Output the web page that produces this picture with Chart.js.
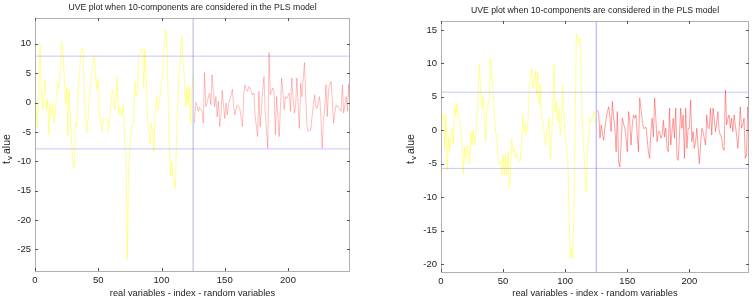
<!DOCTYPE html>
<html>
<head>
<meta charset="utf-8">
<script src="https://cdn.jsdelivr.net/npm/chart.js@4.4.1/dist/chart.umd.min.js"></script>
<style>
  html, body { margin: 0; padding: 0; background: #fff; }
  .panel { position: absolute; top: 0; width: 376px; height: 300px; }
  #left { left: 0; }
  #right { left: 376px; }
</style>
</head>
<body>
<div class="panel" id="left"><canvas id="cLeft" width="376" height="300"></canvas></div>
<div class="panel" id="right"><canvas id="cRight" width="376" height="300"></canvas></div>
<script>
// ---- data ----
const TITLE = 'UVE plot when 10-components are considered in the PLS model';
const X_LABEL = 'real variables - index - random variables';
const SPLIT_INDEX = 125;
const X_TICKS = [0, 50, 100, 150, 200];
const LEFT_Y_TICKS = [-25, -20, -15, -10, -5, 0, 5, 10];
const RIGHT_Y_TICKS = [-20, -15, -10, -5, 0, 5, 10, 15];

// left panel: t-values of the 125 real variables, then the random ones
const LEFT_REAL = [
  0.3, -4.3, 3.0, 9.7, 2.0, -1.2, 1.5, 3.9, -1.2, 0.5,
  -5.5, -0.1, -2.4, -0.4, -3.5, -1.8, 1.5, 3.3, 2.5, 6.0,
  10.4, 9.0, 5.0, -0.1, 2.5, -5.8, 2.2, -2.4, -7.0, -10.9,
  -11.2, -3.5, -4.1, 1.0, 5.0, 8.0, 9.3, 9.0, 1.0, -3.0,
  -5.2, -2.4, 1.0, 3.3, 5.0, 7.3, 7.9, 4.0, 2.2, 4.0,
  -2.4, -3.5, -4.9, -2.7, -2.9, -2.7, -2.9, -4.9, -3.0, -0.1,
  2.2, 1.5, -1.2, 0.5, 4.4, -2.1, -0.7, -1.2, -2.1, -0.4,
  -7.5, -9.5, -26.8, -11.5, -8.0, -4.1, -4.1, -3.5, 3.6, 1.0,
  1.6, 7.9, 8.4, 9.0, 9.0, 2.5, 9.0, 4.0, -2.9, -5.0,
  -7.0, -3.5, -5.0, -8.5, -1.2, 1.0, -1.2, -0.7, 1.6, 3.0,
  4.4, 9.0, 12.4, 11.3, 3.3, -6.0, -12.5, -10.0, -12.8, -13.5,
  -14.7, -5.2, 1.0, 5.0, 8.4, 11.3, 7.0, 4.4, -0.7, 2.5,
  -0.5, 2.8, -3.6, 2.0, 4.5
];
const LEFT_RANDOM = [
  -3.5, 0.0, -0.4, -1.5, -0.8, -1.2, -1.5, -3.5, 5.1, -0.7,
  -0.1, 0.9, 1.6, -0.4, 4.7, 2.0, -0.7, 1.0, -2.4, 0.2,
  -4.1, -2.4, 2.1, -0.5, -2.7, -0.1, -2.1, -0.2, 0.5, 1.2,
  2.3, -0.7, -2.1, -1.0, -0.4, -0.7, -1.2, -2.8, -4.1, 1.3,
  3.0, 2.2, 1.9, 2.7, 2.5, 1.9, 1.3, 1.6, -2.4, -4.0,
  -5.8, 1.9, -4.1, -1.0, 2.2, 4.4, -1.8, -4.8, -7.8, 8.5,
  1.3, 2.0, 2.5, 1.6, -5.5, 1.0, -2.4, -5.8, -0.7, 4.2,
  1.5, -1.2, 1.0, 0.7, 1.2, 1.6, -1.5, 4.2, 1.0, -1.8,
  -0.4, 4.2, -0.5, -4.4, 3.3, 1.0, 4.0, 6.8, 1.0, -4.1,
  -4.9, -4.7, -4.7, -2.4, -0.5, 1.3, -0.7, -1.0, 0.2, 1.0,
  -2.4, -7.8, -3.0, -1.0, 3.0, -2.4, 2.2, 2.9, 3.6, 0.5,
  -3.5, -1.8, -0.4, -0.7, -0.7, -1.3, -1.5, 3.0, -1.8, -0.3,
  1.0, -1.5, 3.2, -2.0
];
const LEFT_CUTOFF = 7.9;
const LEFT_Y_MIN = -28.7, LEFT_Y_MAX = 14.4, LEFT_X_MAX = 249;

// right panel
const RIGHT_REAL = [
  1.5, 2.3, -2.7, 2.5, -6.0, -1.0, -3.2, -0.2, 0.3,
  -2.2, 3.8, 2.3, 4.0, 1.8, 1.8, -0.2, -2.2, -6.5, -2.5,
  -4.2, -2.2, -2.7, -5.2, -0.2, -2.2, 0.0, -2.2, -0.7,
  1.8, 5.8, 9.8, 5.8, 3.3, 5.3, 1.8, -1.7, 3.3, 3.8,
  4.8, 10.8, 8.3, 6.3, 2.3, -0.2, -1.2, -4.7, -5.0, -4.7,
  -6.7, -3.7, -6.7, -3.5, -6.7, -3.2, -8.7, -5.7, -1.2, -3.2,
  -2.7, -4.2, -3.5, -4.0, -4.7, -4.5, -0.7, 2.3, -0.2, 0.8, -0.7, 1.3,
  6.3, 7.8, 9.3, 6.3, 7.3, 8.8, 5.3, 8.8, 3.8, 6.8,
  1.8, 1.3, -0.2, -2.2, -0.7, 0.3, 1.8, -4.2, -1.2, 2.8,
  9.8, 2.8, 4.3, 1.3, 3.3, -0.7, 1.3, 6.8, 1.8, -1.2,
  -2.7, -4.2, -11.2, -19.2, -17.7, -19.2, -13.2, 1.8, 14.5, 13.3,
  13.0, 13.8, 6.8, 0.3, -3.2, -6.7, -9.2, -3.7, -0.2, 1.8,
  1.3, 1.8, 2.8, 1.8, 0.8
];
const RIGHT_RANDOM = [
  3.0, 2.5, -1.2, 0.8, -0.5, -1.5, 0.4, 1.8, 2.8, 3.5,
  2.0, -0.2, 4.3, 2.0, 0.3, -3.2, 2.8, -4.7, -5.5, -2.2,
  1.8, 1.0, 0.3, -1.2, -3.2, 2.8, 1.3, -2.2, 0.8, 2.3,
  1.8, 2.3, -0.7, -3.2, 4.8, 3.3, 1.5, 0.3, 0.3, 0.5,
  -1.2, -3.2, -4.2, -0.2, 1.8, -1.0, 4.8, 1.8, -1.7, -0.2,
  -0.2, -1.2, -0.7, 1.5, -1.0, 0.3, -2.7, -3.2, 3.3, -2.2,
  -0.2, 1.8, -1.2, 3.3, -4.2, -4.5, -0.8, 3.3, 0.3, 2.3,
  -4.2, 3.3, -2.7, 0.3, 0.3, 4.5, -1.7, -0.2, -2.7, -1.7,
  0.3, -2.5, -5.0, -2.2, 0.3, -0.2, -1.2, -2.2, 2.3, 0.3,
  0.3, 3.3, -0.7, 3.3, 1.8, -0.2, 1.2, 2.8, -0.2, -0.7,
  -1.2, -2.7, -3.0, 6.0, 0.8, 1.8, 2.3, 0.3, 1.8, -0.2,
  2.3, 0.8, -0.7, -2.7, -0.2, 3.5, 0.3, 0.8, 1.8, -4.2,
  -3.7, 3.5, -0.2
];
const RIGHT_CUTOFF = 5.7;
const RIGHT_Y_MIN = -21.2, RIGHT_Y_MAX = 16.35, RIGHT_X_MAX = 248;

const FONT = "'Liberation Sans', Arial, sans-serif";

// matlab-ish frame: box, inward ticks on 4 sides, title and labels
const framePlugin = {
  id: 'frame',
  afterDraw(chart, args, o) {
    const {ctx, chartArea: a, scales} = chart;
    ctx.save();
    ctx.strokeStyle = '#b0b0b0';
    ctx.lineWidth = 1;
    ctx.strokeRect(Math.round(a.left) + 0.5, Math.round(a.top) + 0.5,
      Math.round(a.right - a.left) - 1, Math.round(a.bottom - a.top));
    ctx.strokeStyle = '#555';
    ctx.beginPath();
    scales.x.ticks.forEach(t => {
      const p = Math.round(scales.x.getPixelForValue(t.value)) + 0.5;
      ctx.moveTo(p, a.bottom); ctx.lineTo(p, a.bottom - 3);
      ctx.moveTo(p, a.top); ctx.lineTo(p, a.top + 3);
    });
    scales.y.ticks.forEach(t => {
      const p = Math.round(scales.y.getPixelForValue(t.value)) + 0.5;
      ctx.moveTo(a.left, p); ctx.lineTo(a.left + 3, p);
      ctx.moveTo(a.right, p); ctx.lineTo(a.right - 3, p);
    });
    ctx.stroke();

    const cx = (a.left + a.right) / 2;
    ctx.fillStyle = '#222';
    ctx.textAlign = 'center';
    ctx.textBaseline = 'middle';
    ctx.font = '8.7px ' + FONT;
    ctx.fillText(o.title, cx, o.titleY);
    ctx.font = '9.3px ' + FONT;
    ctx.fillText(o.xLabel, cx, o.xLabelY);

    // y label "t_value" with subscript v
    ctx.translate(o.yLabelX, o.yLabelY);
    ctx.rotate(-Math.PI / 2);
    ctx.textAlign = 'left';
    ctx.font = '10.5px ' + FONT;
    const wt = ctx.measureText('t').width + 1;
    const wa = ctx.measureText('alue').width;
    ctx.font = '8px ' + FONT;
    const wv = ctx.measureText('v').width + 2;
    let x0 = -(wt + wv + wa) / 2;
    ctx.font = '10.5px ' + FONT;
    ctx.fillText('t', x0, 0);
    ctx.font = '8px ' + FONT;
    ctx.fillText('v', x0 + wt, 3);
    ctx.font = '10.5px ' + FONT;
    ctx.fillText('alue', x0 + wt + wv, 0);
    ctx.restore();
  }
};

function makeChart(id, real, random, cutoff, yMin, yMax, xMax, yTicks, cfg) {
  const realPts = real.map((v, k) => ({x: k + 1, y: v}));
  const randPts = random.map((v, k) => ({x: SPLIT_INDEX + 1 + k, y: v}));
  const line = (data, color) => ({
    data, borderColor: color, borderWidth: 1, pointRadius: 0, tension: 0, fill: false
  });
  const tickFont = {family: FONT, size: 9.5};
  return new Chart(document.getElementById(id), {
    type: 'line',
    data: {
      datasets: [
        line([{x: 0, y: cutoff}, {x: xMax, y: cutoff}], 'rgba(70,70,230,0.3)'),
        line([{x: 0, y: -cutoff}, {x: xMax, y: -cutoff}], 'rgba(70,70,230,0.3)'),
        line([{x: SPLIT_INDEX, y: yMin}, {x: SPLIT_INDEX, y: yMax}], cfg.splitColor),
        line(realPts, 'rgba(255,255,0,0.42)'),
        line(randPts, cfg.randColor)
      ]
    },
    options: {
      responsive: false,
      animation: false,
      events: [],
      layout: {padding: {left: 0, top: cfg.top, right: cfg.right, bottom: 0}},
      plugins: {
        legend: {display: false},
        tooltip: {enabled: false},
        frame: {title: TITLE, titleY: cfg.titleY, xLabel: X_LABEL, xLabelY: 293.5,
                yLabelX: cfg.yLabelX, yLabelY: 149}
      },
      scales: {
        x: {
          type: 'linear', min: 0, max: xMax,
          grid: {display: false, drawTicks: false},
          border: {display: false},
          ticks: {padding: 4, maxRotation: 0, color: '#222', font: tickFont},
          afterBuildTicks: s => { s.ticks = X_TICKS.map(v => ({value: v})); },
          afterFit: s => { s.height = cfg.xHeight; }
        },
        y: {
          min: yMin, max: yMax,
          grid: {display: false, drawTicks: false},
          border: {display: false},
          ticks: {padding: 4, color: '#222', font: tickFont},
          afterBuildTicks: s => { s.ticks = yTicks.map(v => ({value: v})); },
          afterFit: s => { s.width = cfg.yWidth; }
        }
      }
    },
    plugins: [framePlugin]
  });
}

makeChart('cLeft', LEFT_REAL, LEFT_RANDOM, LEFT_CUTOFF, LEFT_Y_MIN, LEFT_Y_MAX, LEFT_X_MAX, LEFT_Y_TICKS, {
  top: 18, right: 26, yWidth: 35, xHeight: 29, titleY: 7.5, yLabelX: 7,
  splitColor: 'rgba(90,90,170,0.45)', randColor: 'rgba(255,40,40,0.3)'
});
makeChart('cRight', RIGHT_REAL, RIGHT_RANDOM, RIGHT_CUTOFF, RIGHT_Y_MIN, RIGHT_Y_MAX, RIGHT_X_MAX, RIGHT_Y_TICKS, {
  top: 21, right: 3, yWidth: 65, xHeight: 28, titleY: 10.5, yLabelX: 35,
  splitColor: 'rgba(80,80,255,0.5)', randColor: 'rgba(255,40,40,0.45)'
});
</script>
</body>
</html>
